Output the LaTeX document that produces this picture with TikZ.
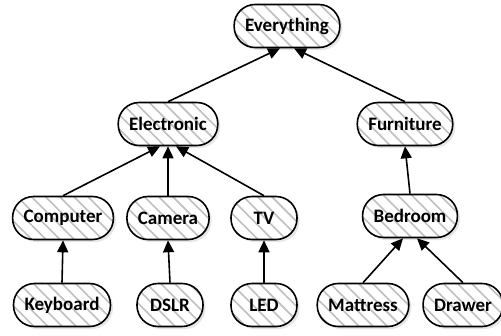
\documentclass[tikz,border=0pt]{standalone}
\usepackage{fontspec}
\setmainfont{Carlito}
\usetikzlibrary{arrows.meta,patterns.meta,shadows}

\begin{document}
\begin{tikzpicture}[x=1pt,y=-1pt,
    cat/.style={draw,rectangle,rounded corners=21pt,minimum height=43pt,minimum width=66pt,inner xsep=11pt,line width=1.6pt,
        drop shadow={shadow xshift=2.5pt,shadow yshift=-2.5pt,opacity=0.2},
        preaction={fill=white},
        pattern={Lines[angle=-45,distance=10pt,line width=1.6pt]},pattern color=gray!50,
        font=\fontsize{19}{22}\selectfont\bfseries},
    isa/.style={line width=1.6pt,-{Triangle[length=12pt,width=11pt]}}]
                \useasboundingbox (0,0) rectangle (501,335);

                \node[cat] (everything) at (287,26) {Everything};

                \node[cat] (electronic) at (168,124) {Electronic};
                \node[cat] (furniture) at (405,124) {Furniture};

                \node[cat] (computer) at (63,218) {Computer};
                \node[cat] (camera) at (168,218) {Camera};
                \node[cat] (tv) at (264,218) {TV};
                \node[cat] (bedroom) at (410,216) {Bedroom};

                \node[cat] (keyboard) at (62,305) {Keyboard};
                \node[cat] (dslr) at (170,305) {DSLR};
                \node[cat] (led) at (264,305) {LED};
                \node[cat] (mattress) at (363,305) {Mattress};
                \node[cat] (drawer) at (463,305) {Drawer};

                \draw[isa] (electronic.north) -- ([xshift=-7pt]everything.south);
                \draw[isa] (furniture.north) -- ([xshift=7pt]everything.south);

                \draw[isa] (computer.north) -- ([xshift=-8pt]electronic.south);
                \draw[isa] (camera.north) -- (electronic.south);
                \draw[isa] (tv.north) -- ([xshift=8pt]electronic.south);
                \draw[isa] (bedroom.north) -- (furniture.south);

                \draw[isa] (keyboard.north) -- (computer.south);
                \draw[isa] (dslr.north) -- (camera.south);
                \draw[isa] (led.north) -- (tv.south);
                \draw[isa] (mattress.north) -- ([xshift=-7pt]bedroom.south);
                \draw[isa] (drawer.north) -- ([xshift=7pt]bedroom.south);
            \end{tikzpicture}
\end{document}
